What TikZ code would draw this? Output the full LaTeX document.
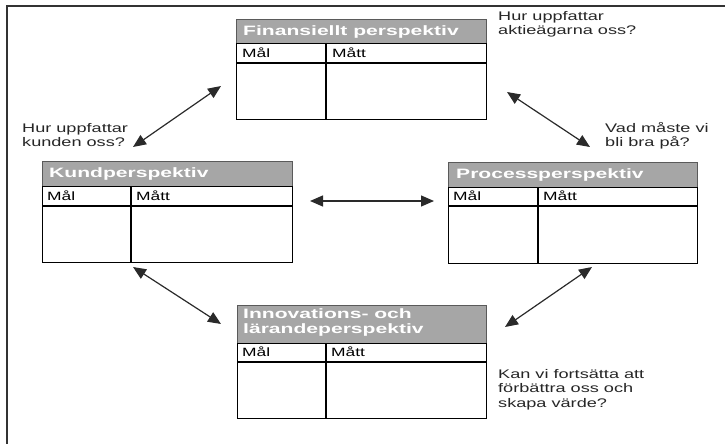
\documentclass[tikz,border=0pt]{standalone}
\usepackage{fontspec}
\setmainfont{Liberation Sans}[FakeStretch=1.45]
\newfontfamily\hdrfont{Liberation Sans}[FakeStretch=1.55]
\usetikzlibrary{arrows.meta}
\definecolor{hdrfill}{HTML}{A6A6A6}
\definecolor{hdrline}{HTML}{5A5A5A}
\definecolor{arrc}{HTML}{2A2A2A}
\begin{document}
\begin{tikzpicture}[x=1pt,y=-1pt,
  hdr/.style={fill=hdrfill,draw=hdrline,line width=1pt,inner sep=0pt,anchor=north west},
  tbl/.style={draw=black,line width=1.1pt,inner sep=0pt,anchor=north west,minimum width=250pt,minimum height=76pt},
  htext/.style={anchor=base west,inner sep=0pt,text=white,font=\hdrfont\fontsize{13.6}{15}\selectfont\bfseries},
  htext2/.style={anchor=north west,inner sep=0pt,text=white,align=left,font=\hdrfont\fontsize{13.6}{15}\selectfont\bfseries},
  ctext/.style={anchor=base west,inner sep=0pt,font=\fontsize{12}{13}\selectfont},
  qtext/.style={anchor=north west,inner sep=0pt,align=left,text=black!85,font=\fontsize{12.5}{14.5}\selectfont},
  rule/.style={draw=black,line width=1.1pt},
  biarrow/.style={draw=arrc,line width=1.2pt,{Triangle[length=13pt,width=11pt]}-{Triangle[length=13pt,width=11pt]}}
]
\useasboundingbox (0,0) rectangle (725,444);
% outer frame
\draw[line width=1.2pt,black!80] (7,444) -- (7,6) -- (725,6);

% Finansiellt
\node[hdr,minimum width=250pt,minimum height=24pt] (finH) at (236,19) {};
\node[htext] (finX) at (243,36) {Finansiellt perspektiv};
\node[tbl] (finT) at (236,43) {};
\draw[rule] ([yshift=-20pt]finT.north west) -- ([yshift=-20pt]finT.north east);
\draw[rule] ([xshift=90pt]finT.north west) -- ([xshift=90pt]finT.south west);
\node[ctext] (finM1) at (242,57) {Mål};
\node[ctext] (finM2) at (332,57) {Mått};

% Kund
\node[hdr,minimum width=250pt,minimum height=25pt] (kunH) at (42,161) {};
\node[htext] (kunX) at (49,177) {Kundperspektiv};
\node[tbl] (kunT) at (42,186) {};
\draw[rule] ([yshift=-20pt]kunT.north west) -- ([yshift=-20pt]kunT.north east);
\draw[rule] ([xshift=89pt]kunT.north west) -- ([xshift=89pt]kunT.south west);
\node[ctext] (kunM1) at (47,200) {Mål};
\node[ctext] (kunM2) at (136,200) {Mått};

% Process
\node[hdr,minimum width=249pt,minimum height=25pt] (proH) at (448,162) {};
\node[htext] (proX) at (456,178) {Processperspektiv};
\node[tbl,minimum width=249pt] (proT) at (448,187) {};
\draw[rule] ([yshift=-19pt]proT.north west) -- ([yshift=-19pt]proT.north east);
\draw[rule] ([xshift=90pt]proT.north west) -- ([xshift=90pt]proT.south west);
\node[ctext] (proM1) at (453,200) {Mål};
\node[ctext] (proM2) at (543,200) {Mått};

% Innovation
\node[hdr,minimum width=249pt,minimum height=38pt] (innH) at (237,305) {};
\node[htext2] (innX) at (243,308) {Innovations- och\\lärandeperspektiv};
\node[tbl,minimum width=249pt,minimum height=75pt] (innT) at (237,343) {};
\draw[rule] ([yshift=-19pt]innT.north west) -- ([yshift=-19pt]innT.north east);
\draw[rule] ([xshift=89pt]innT.north west) -- ([xshift=89pt]innT.south west);
\node[ctext] (innM1) at (242,356) {Mål};
\node[ctext] (innM2) at (331,356) {Mått};

% questions
\node[qtext] (q1) at (498,11) {Hur uppfattar\\aktieägarna oss?};
\node[qtext] (q2) at (22,123) {Hur uppfattar\\kunden oss?};
\node[qtext] (q3) at (605,122) {Vad måste vi\\bli bra på?};
\node[qtext] (q4) at (498,369) {Kan vi fortsätta att\\förbättra oss och\\skapa värde?};

% arrow endpoints
\coordinate (a1s) at (133,147);
\coordinate (a1e) at (221,86);
\coordinate (a2s) at (507,92);
\coordinate (a2e) at (590,147);
\coordinate (a3s) at (310,201);
\coordinate (a3e) at (434,201);
\coordinate (a4s) at (133,267);
\coordinate (a4e) at (221,324);
\coordinate (a5s) at (592,267);
\coordinate (a5e) at (505,327);

\draw[biarrow] (a1s) -- (a1e);
\draw[biarrow] (a2s) -- (a2e);
\draw[biarrow] (a3s) -- (a3e);
\draw[biarrow] (a4s) -- (a4e);
\draw[biarrow] (a5s) -- (a5e);
\end{tikzpicture}
\end{document}
